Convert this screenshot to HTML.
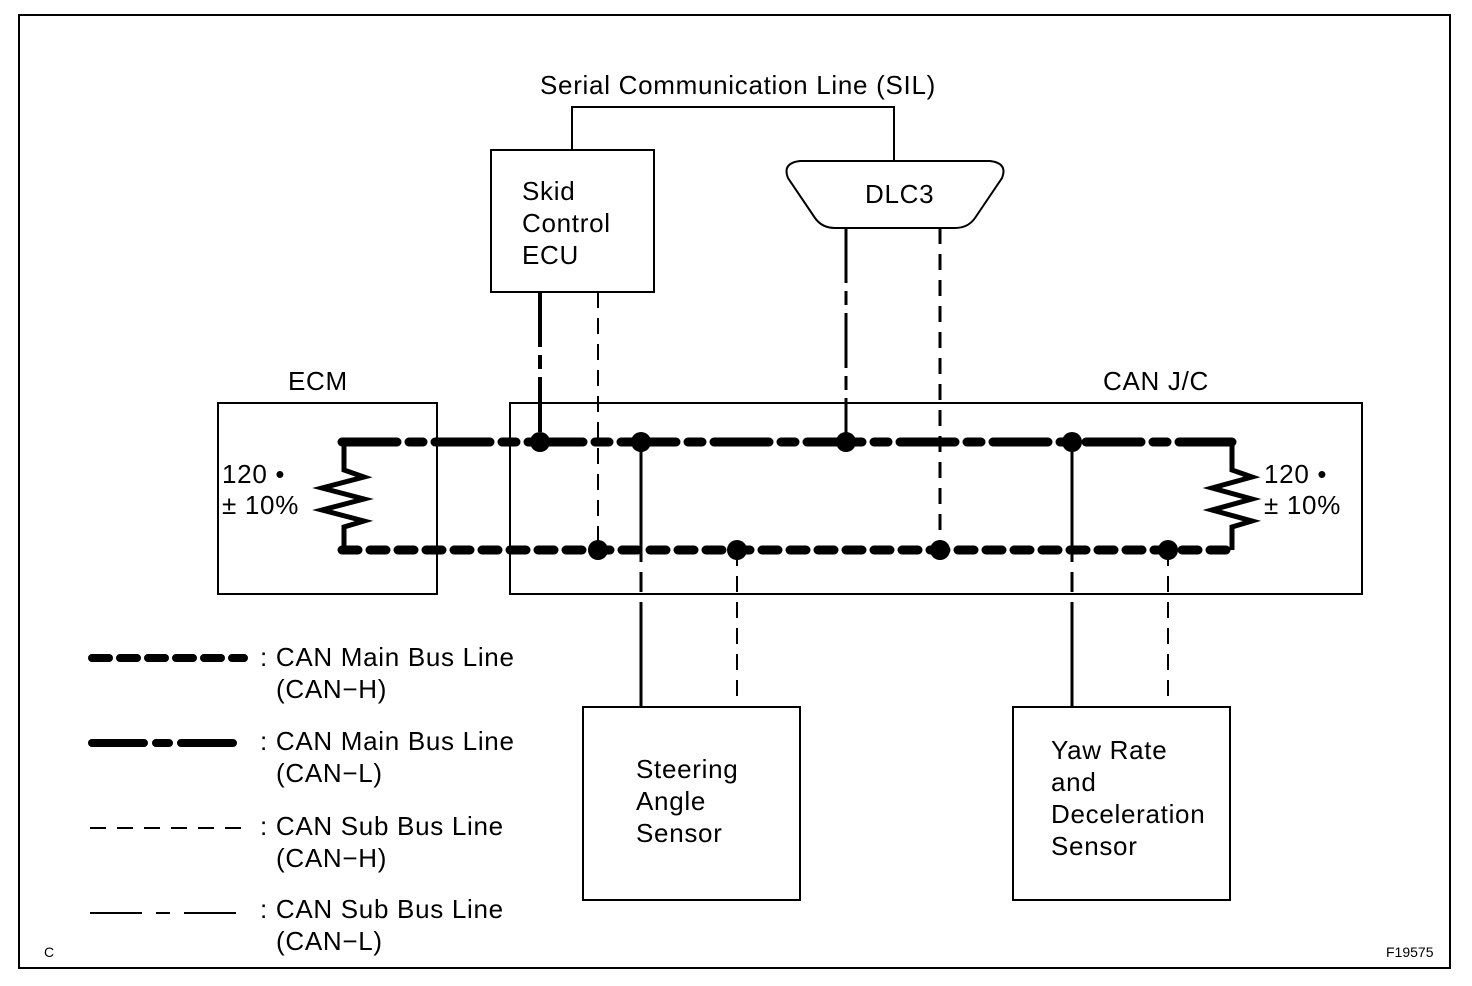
<!DOCTYPE html>
<html><head><meta charset="utf-8"><style>
html,body{margin:0;padding:0;background:#fff;}
svg{display:block;}
text{font-family:"Liberation Sans",Arial,sans-serif;font-size:26px;letter-spacing:0.7px;fill:#000;}
</style></head><body>
<svg width="1472" height="986" viewBox="0 0 1472 986" xmlns="http://www.w3.org/2000/svg">
<rect x="0" y="0" width="1472" height="986" fill="#fff"/>
<rect x="19" y="15" width="1431" height="953" fill="none" stroke="#000" stroke-width="2"/>
<g fill="none" stroke="#000" stroke-width="2">
<rect x="218" y="403" width="219" height="191"/>
<rect x="510" y="403" width="852" height="191"/>
<rect x="491" y="150" width="163" height="142"/>
<rect x="583" y="707" width="217" height="193"/>
<rect x="1013" y="707" width="217" height="193"/>
<path d="M572 150 V107 H894 V160"/>
<path d="M800 161 H990 Q1008 163 1002 178 L975 218 Q968 228 955 228 H835 Q822 228 815 218 L788 178 Q782 163 800 161 Z"/>
</g>
<path d="M342 442 H1232" stroke="#000" stroke-width="9" stroke-linecap="round" stroke-dasharray="55 12 14 12" fill="none"/>
<path d="M342 550 H1232" stroke="#000" stroke-width="9" stroke-linecap="round" stroke-dasharray="16 12" fill="none"/>
<g fill="none" stroke="#000" stroke-width="5">
<path d="M344 442 V470 L364 477 L322 488 L364 499 L322 510 L364 521 L344 527 V550"/>
<path d="M1232 442 V470 L1252 477 L1212 488 L1252 499 L1212 510 L1252 521 L1232 527 V550"/>
</g>
<g fill="none" stroke="#000">
<path d="M540 292 V442" stroke-width="4" stroke-dasharray="55 8 14 8"/>
<path d="M598 292 V550" stroke-width="2" stroke-dasharray="16 10"/>
<path d="M846 228 V442" stroke-width="3" stroke-dasharray="55 8 14 8"/>
<path d="M940 228 V550" stroke-width="3" stroke-dasharray="16 10"/>
<path d="M641 442 V707" stroke-width="3" stroke-dasharray="120 10 20 10"/>
<path d="M737 550 V707" stroke-width="2" stroke-dasharray="16 10"/>
<path d="M1072 442 V707" stroke-width="3" stroke-dasharray="120 10 20 10"/>
<path d="M1168 550 V707" stroke-width="2" stroke-dasharray="16 10"/>
</g>
<g fill="#000">
<circle cx="540" cy="442" r="10"/><circle cx="641" cy="442" r="10"/><circle cx="846" cy="442" r="10"/><circle cx="1072" cy="442" r="10"/>
<circle cx="598" cy="550" r="10"/><circle cx="737" cy="550" r="10"/><circle cx="940" cy="550" r="10"/><circle cx="1168" cy="550" r="10"/>
</g>
<path d="M92 658 H244" stroke="#000" stroke-width="8" stroke-linecap="round" stroke-dasharray="17 11" fill="none"/>
<path d="M92 743 H244" stroke="#000" stroke-width="8" stroke-linecap="round" stroke-dasharray="52 12 13 12" fill="none"/>
<path d="M90 828 H244" stroke="#000" stroke-width="2" stroke-dasharray="16 11" fill="none"/>
<path d="M90 913 H244" stroke="#000" stroke-width="2" stroke-dasharray="52 14 14 14" fill="none"/>
<text x="540" y="94">Serial Communication Line (SIL)</text>
<text x="522" y="200">Skid</text><text x="522" y="232">Control</text><text x="522" y="264">ECU</text>
<text x="865" y="203">DLC3</text>
<text x="288" y="390">ECM</text>
<text x="1103" y="390">CAN J/C</text>
<text x="222" y="483">120 •</text><text x="222" y="514">± 10%</text>
<text x="1264" y="483">120 •</text><text x="1264" y="514">± 10%</text>
<text x="636" y="778">Steering</text><text x="636" y="810">Angle</text><text x="636" y="842">Sensor</text>
<text x="1051" y="759">Yaw Rate</text><text x="1051" y="791">and</text><text x="1051" y="823">Deceleration</text><text x="1051" y="855">Sensor</text>
<text x="260" y="666">: CAN Main Bus Line</text><text x="276" y="698">(CAN−H)</text>
<text x="260" y="750">: CAN Main Bus Line</text><text x="276" y="782">(CAN−L)</text>
<text x="260" y="835">: CAN Sub Bus Line</text><text x="276" y="867">(CAN−H)</text>
<text x="260" y="918">: CAN Sub Bus Line</text><text x="276" y="950">(CAN−L)</text>
<text x="44" y="957" style="font-size:14px;letter-spacing:0">C</text>
<text x="1386" y="957" style="font-size:14px;letter-spacing:0">F19575</text>
</svg>
</body></html>
